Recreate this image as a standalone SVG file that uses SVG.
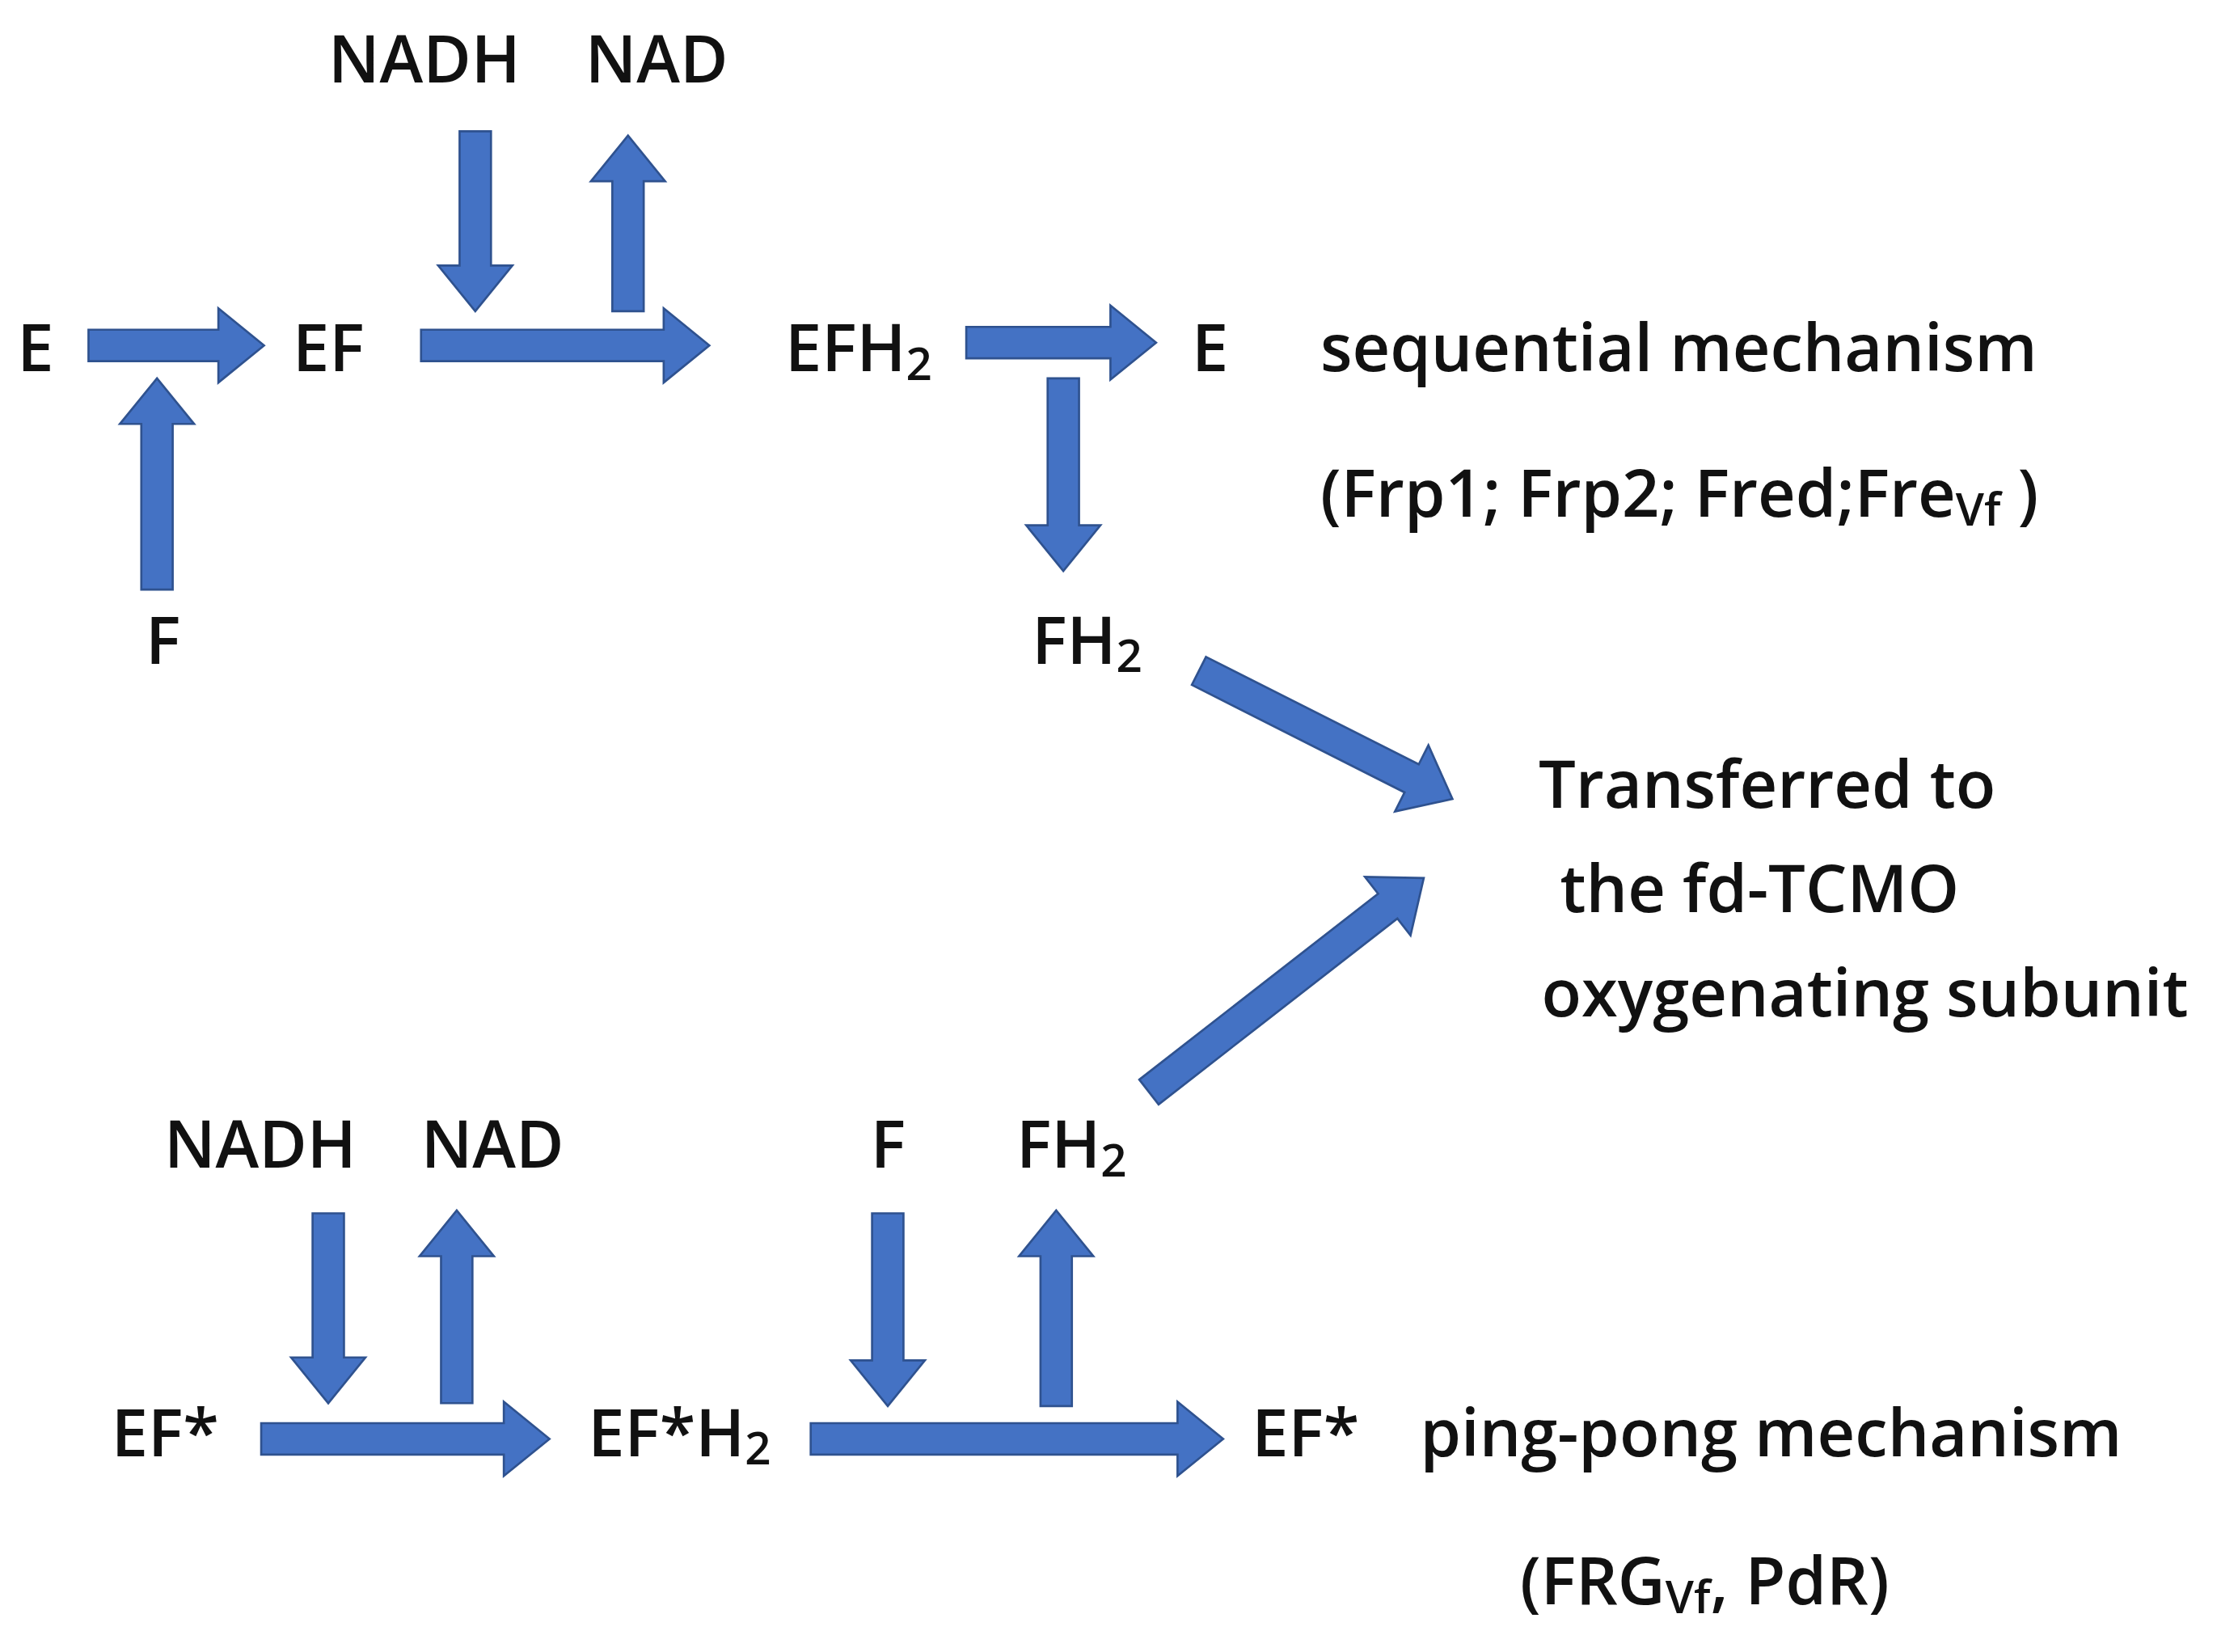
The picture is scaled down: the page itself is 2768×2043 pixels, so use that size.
<svg xmlns="http://www.w3.org/2000/svg" width="2768" height="2043" viewBox="0 0 2768 2043">
<style>
text{font-family:"Open Sans","Liberation Sans",sans-serif;font-weight:600;font-size:46px;fill:#111}
.s{font-size:32px}
polygon{fill:#4472C4;stroke:#2F528F;stroke-width:1.5}
</style>
<rect width="2768" height="2043" fill="#fff"/>
<g transform="scale(1.7653)">
<g id="connectors">
<polygon points="62,231 153,231 153,216 185,242 153,268 153,253 62,253"/>
<polygon points="99,413 121,413 121,297 136,297 110,265 84,297 99,297"/>
<polygon points="295,231 465,231 465,216 497,242 465,268 465,253 295,253"/>
<polygon points="322,92 344,92 344,186 359,186 333,218 307,186 322,186"/>
<polygon points="429,218 451,218 451,127 466,127 440,95 414,127 429,127"/>
<polygon points="677,229 778,229 778,214 810,240 778,266 778,251 677,251"/>
<polygon points="734,265 756,265 756,368 771,368 745,400 719,368 734,368"/>
<polygon transform="translate(840,470) rotate(26.8)" points="0,-11 167,-11 167,-26 199,0 167,26 167,11 0,11"/>
<polygon transform="translate(805,765) rotate(-37.9)" points="0,-11 212,-11 212,-26 244,0 212,26 212,11 0,11"/>
<polygon points="219,850 241,850 241,951 256,951 230,983 204,951 219,951"/>
<polygon points="309,983 331,983 331,880 346,880 320,848 294,880 309,880"/>
<polygon points="183,997 353,997 353,982 385,1008 353,1034 353,1019 183,1019"/>
<polygon points="611,850 633,850 633,953 648,953 622,985 596,953 611,953"/>
<polygon points="729,985 751,985 751,880 766,880 740,848 714,880 729,880"/>
<polygon points="568,997 825,997 825,982 857,1008 825,1034 825,1019 568,1019"/>
</g>
<g id="n-nadh1"><text x="230" y="58">NADH</text></g>
<g id="n-nad1"><text x="410" y="58">NAD</text></g>
<g id="n-e1"><text x="12" y="260">E</text></g>
<g id="n-ef"><text x="205" y="260">EF</text></g>
<g id="n-efh2"><text x="550" y="260">EFH<tspan class="s" dy="6">2</tspan></text></g>
<g id="n-e2"><text x="835" y="260">E</text></g>
<g id="n-seq"><text x="925" y="260">sequential mechanism</text></g>
<g id="n-seq2"><text x="925" y="362">(Frp1; Frp2; Fred;Fre<tspan class="s" dy="6">Vf</tspan><tspan dy="-6"> )</tspan></text></g>
<g id="n-f1"><text x="102" y="465">F</text></g>
<g id="n-fh2a"><text x="723" y="465">FH<tspan class="s" dy="6">2</tspan></text></g>
<g id="n-trans"><text x="1078" y="566">Transferred to</text><text x="1093" y="639"> the fd-TCMO</text><text x="1080" y="712">oxygenating subunit</text></g>
<g id="n-nadh2"><text x="115" y="818">NADH</text></g>
<g id="n-nad2"><text x="295" y="818">NAD</text></g>
<g id="n-f2"><text x="610" y="818">F</text></g>
<g id="n-fh2b"><text x="712" y="818">FH<tspan class="s" dy="6">2</tspan></text></g>
<g id="n-efs1"><text x="78" y="1020">EF*</text></g>
<g id="n-efsh2"><text x="412" y="1020">EF*H<tspan class="s" dy="6">2</tspan></text></g>
<g id="n-efs2"><text x="877" y="1020">EF*</text></g>
<g id="n-pp"><text x="995" y="1020">ping-pong mechanism</text></g>
<g id="n-pp2"><text x="1065" y="1124">(FRG<tspan class="s" dy="6">Vf</tspan><tspan dy="-6">, PdR)</tspan></text></g>
</g>
</svg>
